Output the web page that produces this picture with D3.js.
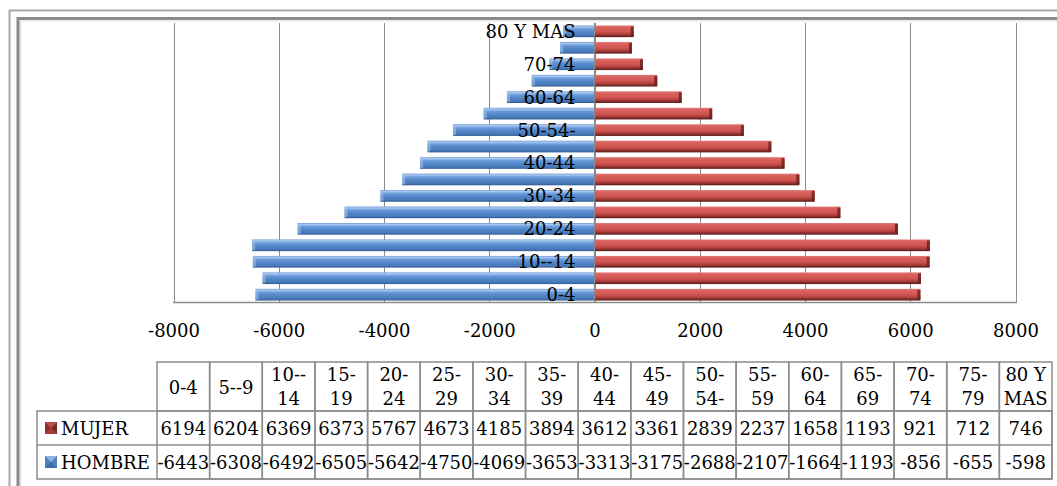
<!DOCTYPE html>
<html><head><meta charset="utf-8">
<script src="https://cdn.jsdelivr.net/npm/d3@7"></script>
<style>
html,body{margin:0;padding:0;background:#fff;}
svg{display:block;}
text{font-family:"DejaVu Serif",serif;fill:#000;}
</style></head>
<body>
<svg id="c" width="1057" height="486"></svg>
<script>
const categories = ["0-4","5--9","10--14","15-19","20-24","25-29","30-34","35-39","40-44","45-49","50-54-","55-59","60-64","65-69","70-74","75-79","80 Y MAS"];
const mujer = [6194,6204,6369,6373,5767,4673,4185,3894,3612,3361,2839,2237,1658,1193,921,712,746];
const hombre = [-6443,-6308,-6492,-6505,-5642,-4750,-4069,-3653,-3313,-3175,-2688,-2107,-1664,-1193,-856,-655,-598];
const xTicks = [-8000,-6000,-4000,-2000,0,2000,4000,6000,8000];
const seriesNames = ["MUJER","HOMBRE"];

const svg = d3.select("#c");
const defs = svg.append("defs");

function grad(id, stops){
  const g = defs.append("linearGradient").attr("id",id).attr("x1",0).attr("y1",0).attr("x2",0).attr("y2",1);
  stops.forEach(s=>g.append("stop").attr("offset",s[0]).attr("stop-color",s[1]));
}
grad("gBlue",[[0,"#6f9bd6"],[0.12,"#a9c8f0"],[0.3,"#6b9bdb"],[0.55,"#5287c9"],[0.82,"#4a7bbb"],[1,"#2f5b93"]]);
grad("gRed",[[0,"#e07f7c"],[0.15,"#db615e"],[0.5,"#d05652"],[0.72,"#b4423f"],[0.88,"#7e2b29"],[1,"#5a1c1a"]]);

// frame
svg.append("path").attr("d","M9.5,487 V10.5 H1058").attr("fill","none").attr("stroke","#a8a8a8").attr("stroke-width",2);
svg.append("path").attr("d","M18,487 V18.5 H1058").attr("fill","none").attr("stroke","#8a8a8a").attr("stroke-width",3);
svg.append("path").attr("d","M20.5,487 V21 H1058").attr("fill","none").attr("stroke","#dcdcdc").attr("stroke-width",1);

// scales
const x = d3.scaleLinear().domain([-8000,8000]).range([173.5,1015.5]);
const y = d3.scaleBand().domain(categories.slice().reverse()).range([23.5,302.5]).paddingInner(0.29).paddingOuter(0.12);

// gridlines
const g = svg.append("g");
g.selectAll("line.grid").data(xTicks).join("line")
  .attr("x1",d=>Math.round(x(d))+0.5).attr("x2",d=>Math.round(x(d))+0.5)
  .attr("y1",23).attr("y2",302.5)
  .attr("stroke","#8c8c8c").attr("stroke-width",1);

// bars
const rows = categories.map((c,i)=>({c, m:mujer[i], h:hombre[i]}));
const bh = y.bandwidth();
function drawBars(key, fill, endCol, endOp){
  const sel = g.append("g").selectAll("g").data(rows).join("g");
  sel.append("rect")
    .attr("x",d=>x(Math.min(0,d[key]))).attr("width",d=>Math.abs(x(d[key])-x(0)))
    .attr("y",d=>y(d.c)).attr("height",bh).attr("fill",`url(#${fill})`);
  sel.append("rect")
    .attr("x",d=>d[key]<0 ? x(d[key]) : x(d[key])-3).attr("width",3)
    .attr("y",d=>y(d.c)+1).attr("height",bh-2).attr("fill",endCol).attr("opacity",endOp);
}
drawBars("h","gBlue","#9fc0ea",0.6);
drawBars("m","gRed","#5e1d1b",0.75);

// zero axis
g.append("line").attr("x1",x(0)).attr("x2",x(0)).attr("y1",23).attr("y2",302.5)
  .attr("stroke","#8c8c8c").attr("stroke-width",1.2);
// plot bottom border
g.append("line").attr("x1",173).attr("x2",1017).attr("y1",302.5).attr("y2",302.5)
  .attr("stroke","#8c8c8c").attr("stroke-width",1.5);

// category labels
const yAxis = d3.axisLeft(y).tickSize(0).tickPadding(19)
  .tickValues(categories.filter((c,i)=>i%2===0));
const ya = svg.append("g").attr("transform",`translate(${x(0)},0)`).call(yAxis);
ya.select(".domain").remove();
ya.selectAll("text").attr("font-family","DejaVu Serif").attr("font-size",18).attr("fill","#000").attr("dy","0.36em");

// x tick labels
const xAxis = d3.axisBottom(x).tickValues(xTicks).tickSize(0).tickPadding(0).tickFormat(d=>String(d));
const xa = svg.append("g").attr("transform","translate(0,323)").call(xAxis);
xa.select(".domain").remove();
xa.selectAll("text").attr("font-family","DejaVu Serif").attr("font-size",18).attr("fill","#000").attr("dy","0.75em");

// data table
const tLeft = 157, tRight = 1052, legLeft = 37;
const colW = (tRight - tLeft)/categories.length;
const rTop = 362, r1 = 411, r2 = 445, rBot = 479;
const tb = svg.append("g");
const bc = "#8c8c8c";
categories.forEach((c,i)=>{
  tb.append("rect").attr("x",tLeft+i*colW).attr("y",rTop).attr("width",colW).attr("height",rBot-rTop)
    .attr("fill","none").attr("stroke",bc).attr("stroke-width",1.5);
});
tb.append("rect").attr("x",legLeft).attr("y",r1).attr("width",tRight-legLeft).attr("height",rBot-r1)
  .attr("fill","none").attr("stroke",bc).attr("stroke-width",1.5);
tb.append("line").attr("x1",legLeft).attr("x2",tRight).attr("y1",r2).attr("y2",r2).attr("stroke",bc).attr("stroke-width",1.5);
tb.append("line").attr("x1",tLeft).attr("x2",tRight).attr("y1",r1).attr("y2",r1).attr("stroke",bc).attr("stroke-width",1.5);

function splitLabel(c){
  if(c.length<=4) return [c];
  if(c.indexOf(" ")>=0){ const k=c.lastIndexOf(" "); return [c.slice(0,k), c.slice(k+1)]; }
  const m = c.match(/^(\d+-+)(.*)$/);
  return m ? [m[1], m[2]] : [c];
}
categories.forEach((c,i)=>{
  const lines = splitLabel(c);
  const cx = tLeft + (i+0.5)*colW;
  const t = tb.append("text").attr("x",cx).attr("text-anchor","middle").attr("font-size",18);
  if(lines.length===1){
    t.attr("y",393.5).text(lines[0]);
  } else {
    t.append("tspan").attr("x",cx).attr("y",381).text(lines[0]);
    t.append("tspan").attr("x",cx).attr("y",405).text(lines[1]);
  }
});
const valRows = [{name:seriesNames[0], vals:mujer, base:435, col:"red"},{name:seriesNames[1], vals:hombre, base:469, col:"blue"}];
valRows.forEach(r=>{
  r.vals.forEach((v,i)=>{
    tb.append("text").attr("x",tLeft+(i+0.5)*colW).attr("y",r.base).attr("text-anchor","middle").attr("font-size",18).text(String(v));
  });
  tb.append("text").attr("x",61).attr("y",r.base).attr("font-size",18).text(r.name);
  const ky = r.base-13;
  const key = tb.append("g");
  key.append("rect").attr("x",45).attr("y",ky).attr("width",12).attr("height",12).attr("fill",r.col==="red"?"#c0504d":"#4f81bd");
  if(r.col==="red"){
    key.append("path").attr("d",`M45,${ky} L51,${ky+6} L45,${ky+12} Z`).attr("fill","#8e2f2c");
    key.append("path").attr("d",`M57,${ky} L51,${ky+6} L57,${ky+12} Z`).attr("fill","#7a2826");
    key.append("path").attr("d",`M45,${ky+12} L51,${ky+6} L57,${ky+12} Z`).attr("fill","#a53c39");
  } else {
    key.append("path").attr("d",`M45,${ky} L51,${ky+6} L57,${ky} Z`).attr("fill","#8db3e2");
    key.append("path").attr("d",`M45,${ky+12} L51,${ky+6} L57,${ky+12} Z`).attr("fill","#3f6fa8");
  }
});
</script>
</body></html>
